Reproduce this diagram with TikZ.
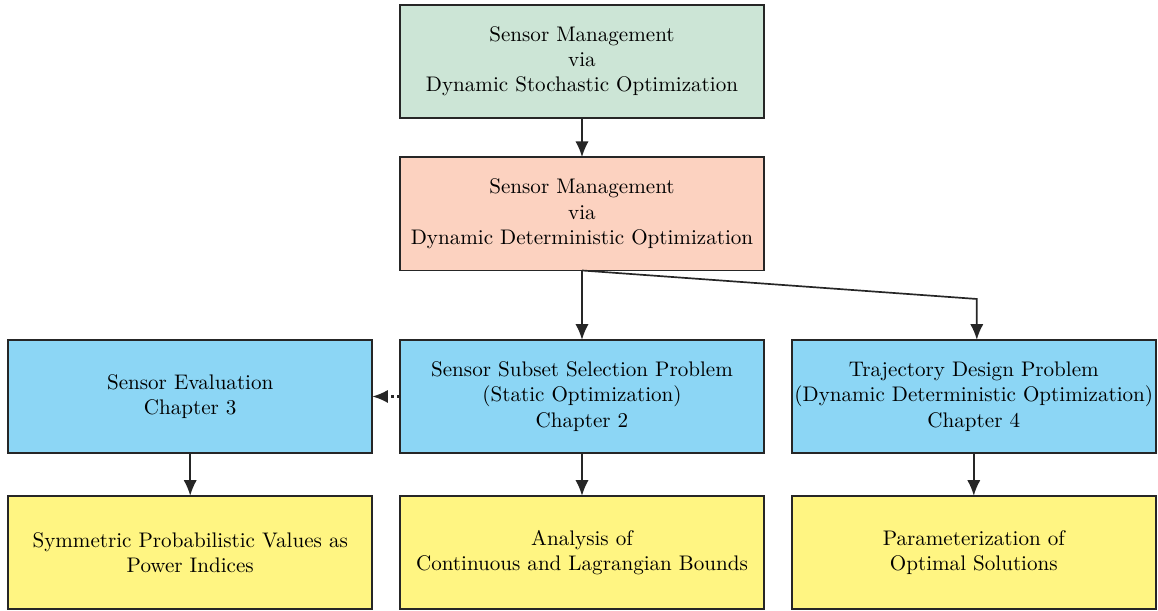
\documentclass[tikz,border=0pt]{standalone}
\usepackage{xcolor}
\usepackage{tikz}
\usetikzlibrary{shapes,arrows,positioning,calc,arrows.meta}

\definecolor{stochgreen}{RGB}{204,229,214}
\definecolor{detsalmon}{RGB}{252,210,192}
\definecolor{chapblue}{RGB}{140,214,245}
\definecolor{resyellow}{RGB}{255,245,130}

\tikzset{
    block/.style={draw=black!85, line width=0.8pt, minimum width=6.07cm, minimum height=1.89cm, align=center, inner sep=1pt, outer sep=0pt},
    link/.style={draw=black!85, line width=0.8pt, -{Latex[length=2.6mm,width=2.2mm]}}
}

\begin{document}
\begin{tikzpicture}
    \useasboundingbox (0,0) rectangle (19.3,10.183);

    % Top of the hierarchy
    \node[block, fill=stochgreen] (stoch) at (9.7,9.16) {Sensor Management\\via\\Dynamic Stochastic Optimization};
    \node[block, fill=detsalmon] (det) at (9.7,6.62) {Sensor Management\\via\\Dynamic Deterministic Optimization};

    % Chapters
    \node[block, fill=chapblue] (subset) at (9.7,3.575) {Sensor Subset Selection Problem\\(Static Optimization)\\Chapter 2};
    \node[block, fill=chapblue] (evalu) at (3.17,3.575) {Sensor Evaluation\\Chapter 3};
    \node[block, fill=chapblue] (traj) at (16.23,3.575) {Trajectory Design Problem\\(Dynamic Deterministic Optimization)\\Chapter 4};

    % Results
    \node[block, fill=resyellow] (spv) at (3.17,0.975) {Symmetric Probabilistic Values as\\Power Indices};
    \node[block, fill=resyellow] (bounds) at (9.7,0.975) {Analysis of\\Continuous and Lagrangian Bounds};
    \node[block, fill=resyellow] (param) at (16.23,0.975) {Parameterization of\\Optimal Solutions};

    % Connections
    \draw[link] (stoch) -- (det);
    \draw[link] (det) -- (subset);
    \coordinate (bend) at ($(traj.north)+(0.05,0.68)$);
    \draw[link] (det.south) -- (bend) -- (bend |- traj.north);
    \draw[link, line width=1pt, dash pattern=on 1.2pt off 1.6pt] (subset) -- (evalu);
    \draw[link] (evalu) -- (spv);
    \draw[link] (subset) -- (bounds);
    \draw[link] (traj) -- (param);
\end{tikzpicture}
\end{document}
